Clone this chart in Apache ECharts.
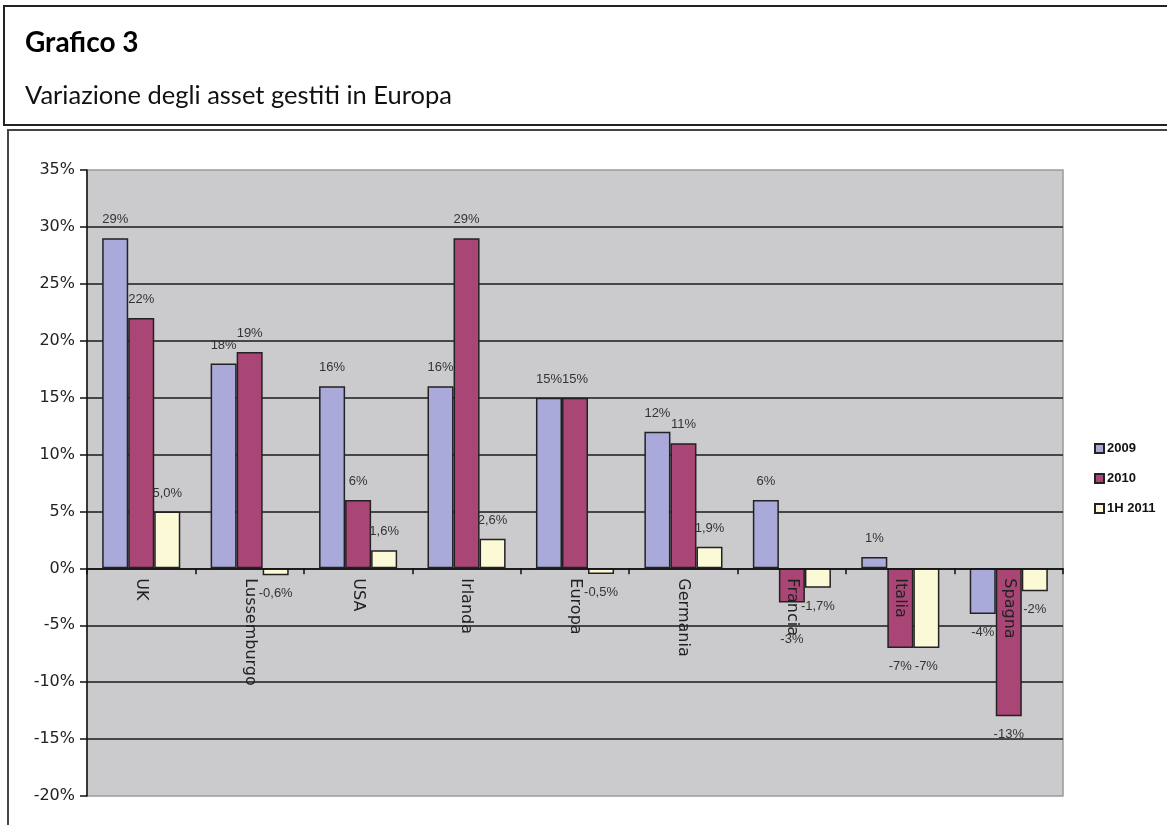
<!DOCTYPE html>
<html>
<head>
<meta charset="utf-8">
<title>Grafico 3</title>
<script src="https://cdn.jsdelivr.net/npm/echarts@6/dist/echarts.min.js"></script>
<style>
  html, body { margin: 0; padding: 0; background: #ffffff; }
  #chart { width: 1167px; height: 825px; }
</style>
</head>
<body>
<div id="chart"></div>
<script>
// Categories along the x axis
const countries = ['UK', 'Lussemburgo', 'USA', 'Irlanda', 'Europa', 'Germania', 'Francia', 'Italia', 'Spagna'];

// Percentage change of managed assets
const series2009 = [29, 18, 16, 16, 15, 12, 6, 1, -4];
const series2010 = [22, 19, 6, 29, 15, 11, -3, -7, -13];
const series1H2011 = [5.0, -0.6, 1.6, 2.6, -0.5, 1.9, -1.7, -7, -2];
// Decimal places shown in the 1H 2011 value labels
const decimals1H2011 = [1, 1, 1, 1, 1, 1, 1, 0, 0];

const seriesNames = ['2009', '2010', '1H 2011'];
const yTicks = { min: -20, max: 35, step: 5 };

const colors = ['#aaaada', '#a94676', '#fbf9d6'];

// plot box
const W = 1167, H = 825;
const gridBox = { left: 87, right: 104, top: 170, bottom: 29 };
const plotHeight = H - gridBox.top - gridBox.bottom;
// distance from the bottom edge of the plot up to the zero line
const zeroOffset = (0 - yTicks.min) / (yTicks.max - yTicks.min) * plotHeight;

// value labels that sit further from their bar, to clear the country name
const labelPush = { '2010:Francia': 30 };

function fmt(v, d) {
  return v.toFixed(d).replace('.', ',') + '%';
}

function withLabels(name, values, decs) {
  return values.map((v, i) => {
    const label = {
      position: v >= 0 ? 'top' : 'bottom',
      formatter: fmt(v, decs ? decs[i] : 0)
    };
    const push = labelPush[name + ':' + countries[i]];
    if (push) label.distance = push;
    return { value: v, label };
  });
}

const labelStyle = {
  show: true,
  distance: 12,
  fontFamily: 'Liberation Sans, Arial, sans-serif',
  fontSize: 13,
  color: '#333'
};

const chart = echarts.init(document.getElementById('chart'), null, { renderer: 'canvas' });

chart.setOption({
  animation: false,
  backgroundColor: '#ffffff',
  graphic: [
    // title box
    {
      type: 'rect', z: 0,
      shape: { x: 4, y: 6, width: 1180, height: 119 },
      style: { fill: '#fff', stroke: '#222', lineWidth: 2 }
    },
    // chart frame
    {
      type: 'rect', z: 0,
      shape: { x: 8, y: 130, width: 1180, height: 720 },
      style: { fill: 'none', stroke: '#444', lineWidth: 2 }
    },
    {
      type: 'text', z: 5, left: 25, top: 29,
      style: { text: 'Grafico 3', fontFamily: 'Lato, Open Sans, sans-serif', fontWeight: 'bold', fontSize: 28, fill: '#000' }
    },
    {
      type: 'text', z: 5, left: 25, top: 83,
      style: { text: 'Variazione degli asset gestiti in Europa', fontFamily: 'Lato, Open Sans, sans-serif', fontSize: 25.5, fill: '#111' }
    }
  ],
  color: colors,
  legend: {
    orient: 'vertical',
    left: 1089,
    top: 437,
    itemWidth: 9,
    itemHeight: 9,
    itemGap: 17,
    icon: 'rect',
    textStyle: { fontFamily: 'Liberation Sans, Arial, sans-serif', fontSize: 13, color: '#111', fontWeight: 'bold', padding: [0, 0, 0, -2] },
    data: seriesNames
  },
  grid: {
    left: gridBox.left,
    right: gridBox.right,
    top: gridBox.top,
    bottom: gridBox.bottom,
    containLabel: false,
    outerBoundsMode: 'none',
    show: true,
    backgroundColor: '#cbcbcd',
    borderColor: '#9a9a9a',
    borderWidth: 1.5
  },
  xAxis: [
    {
      // axis line and ticks, sitting on the zero line
      type: 'category',
      data: countries,
      z: 10,
      axisLine: { onZero: true, lineStyle: { color: '#111', width: 1.5 } },
      axisTick: { show: true, length: 6, inside: false, lineStyle: { color: '#111', width: 1.5 } },
      axisLabel: { show: false }
    },
    {
      // country names, hung just below the zero line
      type: 'category',
      data: countries,
      position: 'bottom',
      offset: -zeroOffset,
      z: 11,
      axisLine: { show: false, onZero: false },
      axisTick: { show: false },
      splitLine: { show: false },
      axisLabel: {
        rotate: -90,
        margin: 10,
        fontFamily: 'DejaVu Sans, sans-serif',
        fontSize: 16,
        color: '#222'
      }
    }
  ],
  yAxis: {
    type: 'value',
    min: yTicks.min,
    max: yTicks.max,
    interval: yTicks.step,
    axisLine: { show: true, lineStyle: { color: '#111', width: 1.5 } },
    axisTick: { show: true, length: 7, lineStyle: { color: '#111', width: 1.5 } },
    axisLabel: {
      formatter: v => v + '%',
      margin: 12,
      fontFamily: 'DejaVu Sans, sans-serif',
      fontSize: 16,
      color: '#222'
    },
    splitLine: { show: true, showMinLine: false, showMaxLine: false, lineStyle: { color: '#1a1a1a', width: 1.5 } }
  },
  series: [
    {
      name: seriesNames[0], type: 'bar', barGap: '0%', barCategoryGap: '28%',
      itemStyle: { color: colors[0], borderColor: '#222', borderWidth: 1.5 },
      label: labelStyle,
      data: withLabels(seriesNames[0], series2009)
    },
    {
      name: seriesNames[1], type: 'bar', barGap: '0%', barCategoryGap: '28%',
      itemStyle: { color: colors[1], borderColor: '#222', borderWidth: 1.5 },
      label: labelStyle,
      data: withLabels(seriesNames[1], series2010)
    },
    {
      name: seriesNames[2], type: 'bar', barGap: '0%', barCategoryGap: '28%',
      itemStyle: { color: colors[2], borderColor: '#222', borderWidth: 1.5 },
      label: labelStyle,
      data: withLabels(seriesNames[2], series1H2011, decimals1H2011)
    }
  ]
});
</script>
</body>
</html>
